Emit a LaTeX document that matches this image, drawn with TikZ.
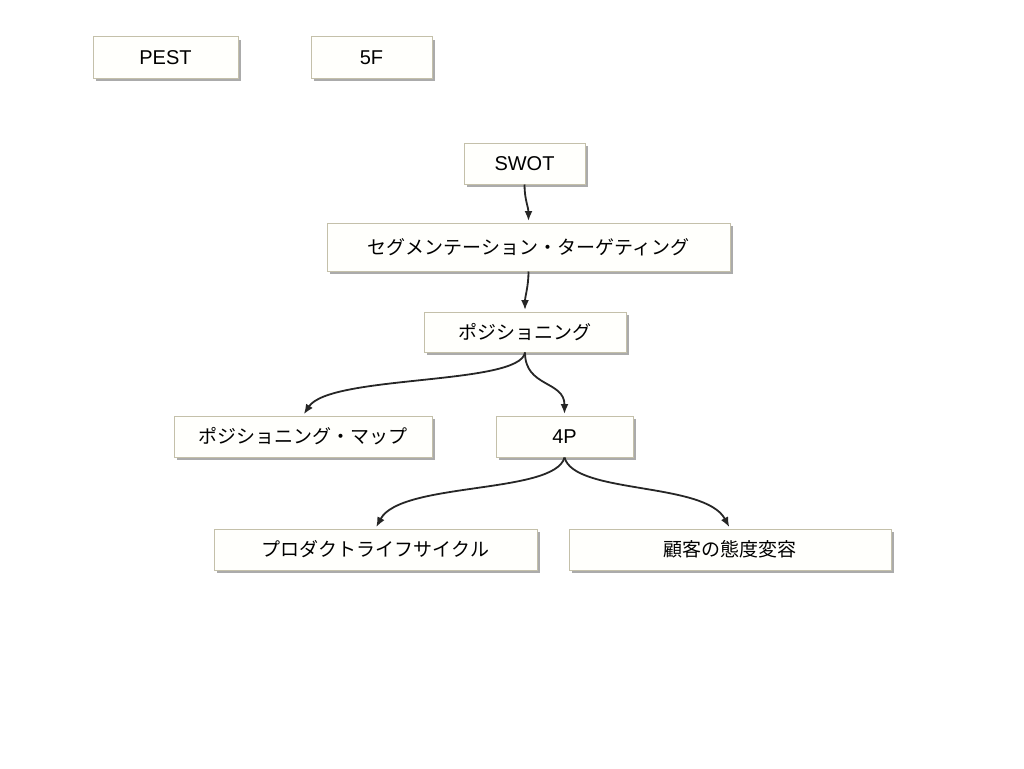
\documentclass[tikz,border=0pt]{standalone}
\usepackage{fontspec}
\setmainfont{Liberation Sans}
\newfontfamily\cjk{Noto Sans CJK JP}
\usepackage{tikz}
\usetikzlibrary{arrows.meta,shadows,calc,positioning}
\definecolor{boxline}{RGB}{196,192,170}
\definecolor{boxfill}{RGB}{255,255,252}

\begin{document}
\begin{tikzpicture}[x=1pt, y=-1pt]
    \useasboundingbox (0,0) rectangle (1024,768);
    \tikzset{Box/.style = {draw=boxline, fill=boxfill, line width=1pt,
        minimum height=41, inner sep=0pt,
        font=\fontsize{20}{24}\selectfont,
        drop shadow={shadow xshift=3pt, shadow yshift=-3pt, fill=black!55, opacity=0.6}},
      JBox/.style = {Box, font=\cjk\fontsize{19}{23}\selectfont},
      Edge/.style = {-{Latex[length=10pt,width=8pt]}, line width=1.8pt, black!85, shorten >=1.5pt}}
    \node[Box, minimum width=145] (pest) at (165.5,57.5) {PEST};
    \node[Box, minimum width=121] (ff) at (371.5,57.5) {5F};
    \node[Box, minimum width=121] (swot) at (524.5,163.5) {SWOT};
    \node[JBox, minimum width=403, minimum height=48] (seg) at (528.5,247) {セグメンテーション・ターゲティング};
    \node[JBox, minimum width=202, minimum height=40] (pos) at (525,332) {ポジショニング};
    \node[JBox, minimum width=258] (map) at (303,436.5) {ポジショニング・マップ};
    \node[Box, minimum width=137] (fp) at (564.5,436.5) {4P};
    \node[JBox, minimum width=323] (plc) at (375.5,549.5) {プロダクトライフサイクル};
    \node[JBox, minimum width=322] (att) at (730,549.5) {顧客の態度変容};
    \draw[Edge] (swot.south) .. controls +(0,15) and +(0,-15) .. (seg.north);
    \draw[Edge] (seg.south) .. controls +(0,15) and +(0,-15) .. (pos.north);
    \draw[Edge] (pos.south) .. controls +(-5,33) and +(27,-41) .. (map.north);
    \draw[Edge] (pos.south) .. controls +(0,35) and +(0,-35) .. (fp.north);
    \draw[Edge] (fp.south) .. controls +(-10,37) and +(25,-47) .. (plc.north);
    \draw[Edge] (fp.south) .. controls +(10,37) and +(-25,-47) .. (att.north);
\end{tikzpicture}
\end{document}
